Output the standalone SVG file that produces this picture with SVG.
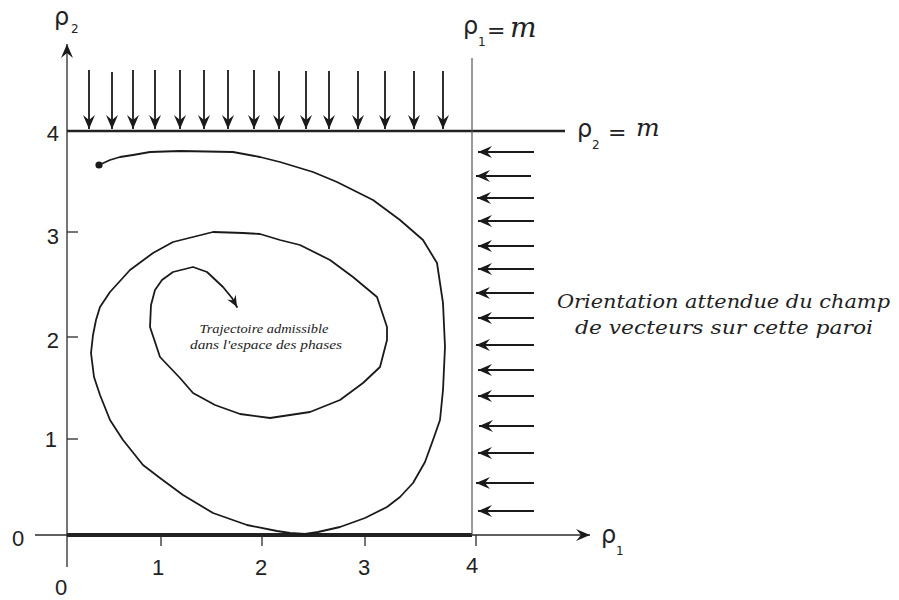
<svg xmlns="http://www.w3.org/2000/svg" width="899" height="600" viewBox="0 0 899 600">
<style>
.ax{stroke:#2a2a2a;stroke-width:1.3;fill:none}
.tk{stroke:#2a2a2a;stroke-width:1.3}
.arw{stroke:#1a1a1a;stroke-width:1.8;fill:none;marker-end:url(#ah)}
.num{font-family:"Liberation Sans",Arial,sans-serif;font-size:22px;fill:#222}
.rho{font-family:"DejaVu Sans",sans-serif;font-size:24px;fill:#222}
.sub{font-family:"DejaVu Sans",sans-serif;font-size:12px;fill:#222}
.eq{font-family:"DejaVu Sans",sans-serif;font-size:22px;fill:#222}
.mi{font-family:"DejaVu Serif",serif;font-style:italic;fill:#222}
.note{font-family:"DejaVu Serif",serif;font-style:italic;font-size:19px;fill:#222}
.small{font-family:"Liberation Serif",serif;font-style:italic;font-size:12px;fill:#222}
</style>
<defs>
<marker id="ah" viewBox="-15 -7 16 14" refX="0" refY="0" markerWidth="16" markerHeight="14" markerUnits="userSpaceOnUse" orient="auto">
<path d="M0,0 L-14,-6 L-9,0 L-14,6 Z" fill="#1a1a1a"/>
</marker>
<marker id="ah2" viewBox="-15 -7 16 14" refX="0" refY="0" markerWidth="13" markerHeight="12" markerUnits="userSpaceOnUse" orient="auto">
<path d="M0,0 L-14,-6 L-9,0 L-14,6 Z" fill="#1a1a1a"/>
</marker>
</defs>
<rect width="899" height="600" fill="#fff"/>

<g id="axes">
<line class="ax" x1="67" y1="567" x2="67" y2="44" marker-end="url(#ah)"/>
<line class="ax" x1="35" y1="535" x2="590" y2="535" marker-end="url(#ah)"/>
<line x1="67" y1="535" x2="472" y2="535" stroke="#222" stroke-width="4"/>
<line x1="67" y1="131" x2="565" y2="131" stroke="#222" stroke-width="2.5"/>
<line x1="472" y1="58" x2="472" y2="535" stroke="#555" stroke-width="1.2"/>
<line class="tk" x1="67" y1="232" x2="78" y2="232"/>
<line class="tk" x1="67" y1="337" x2="78" y2="337"/>
<line class="tk" x1="67" y1="439" x2="78" y2="439"/>
<line class="tk" x1="161" y1="535" x2="161" y2="546"/>
<line class="tk" x1="262" y1="535" x2="262" y2="546"/>
<line class="tk" x1="365" y1="535" x2="365" y2="546"/>
<line class="tk" x1="476" y1="535" x2="476" y2="546"/>
</g>

<g id="tick-labels">
<text class="num" x="59" y="141" text-anchor="end">4</text>
<text class="num" x="59" y="244" text-anchor="end">3</text>
<text class="num" x="59" y="348" text-anchor="end">2</text>
<text class="num" x="57" y="447" text-anchor="end">1</text>
<text class="num" x="12" y="546">0</text>
<text class="num" x="61" y="595" text-anchor="middle">0</text>
<text class="num" x="158" y="575" text-anchor="middle">1</text>
<text class="num" x="261" y="575" text-anchor="middle">2</text>
<text class="num" x="364" y="575" text-anchor="middle">3</text>
<text class="num" x="472" y="573" text-anchor="middle">4</text>
</g>

<g id="axis-labels">
<text class="rho" x="54" y="25">ρ</text><text class="sub" x="71" y="33">2</text>
<text class="rho" x="463" y="34">ρ</text><text class="sub" x="478" y="46">1</text>
<text class="eq" x="487" y="38">=</text><text class="mi" x="510" y="37" font-size="28">m</text>
<text class="rho" x="577" y="137">ρ</text><text class="sub" x="592" y="149">2</text>
<text class="eq" x="608" y="140">=</text><text class="mi" x="636" y="136" font-size="25">m</text>
<text class="rho" x="601" y="543">ρ</text><text class="sub" x="616" y="555">1</text>
</g>

<g id="top-arrows">
<line class="arw" x1="89" y1="70" x2="89" y2="129"/>
<line class="arw" x1="112" y1="72" x2="112" y2="129"/>
<line class="arw" x1="133" y1="70" x2="133" y2="129"/>
<line class="arw" x1="155" y1="70" x2="155" y2="129"/>
<line class="arw" x1="180" y1="70" x2="180" y2="129"/>
<line class="arw" x1="204" y1="70" x2="204" y2="129"/>
<line class="arw" x1="228" y1="70" x2="228" y2="129"/>
<line class="arw" x1="254" y1="70" x2="254" y2="129"/>
<line class="arw" x1="279" y1="71" x2="279" y2="129"/>
<line class="arw" x1="306" y1="71" x2="306" y2="129"/>
<line class="arw" x1="329" y1="71" x2="329" y2="129"/>
<line class="arw" x1="358" y1="71" x2="358" y2="129"/>
<line class="arw" x1="385" y1="71" x2="385" y2="129"/>
<line class="arw" x1="414" y1="71" x2="414" y2="129"/>
<line class="arw" x1="443" y1="71" x2="443" y2="129"/>
</g>

<g id="right-arrows">
<line class="arw" x1="534" y1="152" x2="478" y2="152"/>
<line class="arw" x1="531" y1="176" x2="476" y2="176"/>
<line class="arw" x1="534" y1="198" x2="477" y2="198"/>
<line class="arw" x1="534" y1="221" x2="478" y2="221"/>
<line class="arw" x1="534" y1="246" x2="478" y2="246"/>
<line class="arw" x1="534" y1="269" x2="478" y2="269"/>
<line class="arw" x1="534" y1="293" x2="476" y2="293"/>
<line class="arw" x1="534" y1="318" x2="478" y2="318"/>
<line class="arw" x1="534" y1="345" x2="476" y2="345"/>
<line class="arw" x1="534" y1="370" x2="478" y2="370"/>
<line class="arw" x1="534" y1="396" x2="478" y2="396"/>
<line class="arw" x1="534" y1="426" x2="479" y2="426"/>
<line class="arw" x1="534" y1="453" x2="478" y2="453"/>
<line class="arw" x1="534" y1="483" x2="476" y2="483"/>
<line class="arw" x1="534" y1="511" x2="478" y2="511"/>
</g>

<g id="trajectory">
<circle cx="99" cy="165" r="3.6" fill="#1a1a1a"/>
<path fill="none" stroke="#1a1a1a" stroke-width="1.8" stroke-linejoin="round" stroke-linecap="round" marker-end="url(#ah2)" d="M99,165 L110,160 L120,157 L133,155 L150,152 L180,151 L233,152 L260,157 L280,162 L313,172 L337,182 L373,200 L400,220 L423,240 L437,263 L443,303 L445,347 L443,390 L440,420 L433,440 L425,462 L413,483 L400,497 L387,507 L365,518 L340,527 L318,532 L305,534 L290,533 L277,531 L247,525 L213,513 L183,495 L160,478 L143,465 L123,440 L110,420 L100,395 L94,377 L91,353 L93,335 L96,320 L100,307 L110,292 L130,270 L153,253 L173,242 L213,232 L243,233 L260,234 L280,240 L300,245 L330,260 L353,277 L377,297 L387,327 L387,340 L380,367 L363,383 L340,400 L310,412 L270,418 L240,414 L215,405 L193,393 L180,378 L160,357 L150,327 L151,305 L155,290 L162,280 L173,272 L193,267 L207,272 L223,287 L232,298 L237,307"/>
</g>

<g id="texts">
<text class="small" x="264" y="333" text-anchor="middle" textLength="129" lengthAdjust="spacingAndGlyphs">Trajectoire admissible</text>
<text class="small" x="266" y="349" text-anchor="middle" textLength="152" lengthAdjust="spacingAndGlyphs">dans l'espace des phases</text>
<text class="note" x="557" y="308" textLength="333" lengthAdjust="spacingAndGlyphs">Orientation attendue du champ</text>
<text class="note" x="575" y="334" textLength="298" lengthAdjust="spacingAndGlyphs">de vecteurs sur cette paroi</text>
</g>
</svg>
